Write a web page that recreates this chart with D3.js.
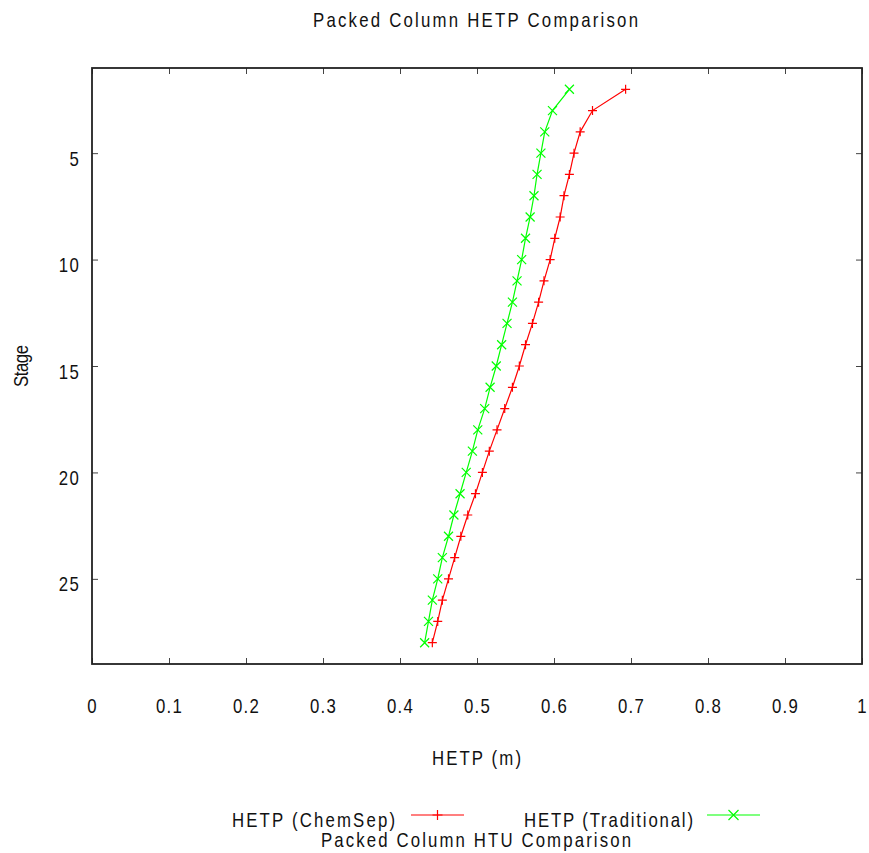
<!DOCTYPE html>
<html>
<head>
<meta charset="utf-8">
<script src="https://cdn.jsdelivr.net/npm/d3@7"></script>
<style>
  body { margin: 0; background: #fff; }
  text { font-family: "Liberation Sans Narrow", "Arial Narrow", "Liberation Sans", Arial, sans-serif; fill: #111; }
</style>
</head>
<body>
<div id="chart"></div>
<script>
// Stadi della colonna
const stages = [2, 3, 4, 5, 6, 7, 8, 9, 10, 11, 12, 13, 14, 15, 16, 17, 18, 19, 20, 21, 22, 23, 24, 25, 26, 27, 28];

// HETP (m)
const hetpChemSep = [0.693, 0.650, 0.634, 0.626, 0.620, 0.613, 0.608, 0.601, 0.595, 0.587, 0.580, 0.572, 0.563,
  0.555, 0.546, 0.536, 0.526, 0.516, 0.507, 0.498, 0.488, 0.479, 0.471, 0.463, 0.455, 0.449, 0.442];
const hetpTraditional = [0.620, 0.598, 0.588, 0.583, 0.578, 0.574, 0.569, 0.563, 0.558, 0.552, 0.546, 0.539, 0.532,
  0.525, 0.517, 0.510, 0.501, 0.494, 0.486, 0.478, 0.470, 0.463, 0.455, 0.449, 0.442, 0.437, 0.432];

const xTicks = [0, 0.1, 0.2, 0.3, 0.4, 0.5, 0.6, 0.7, 0.8, 0.9, 1];
const yTicks = [5, 10, 15, 20, 25];

const width = 869;
const height = 853;
const margin = { top: 68, right: 7, bottom: 189, left: 92 };
const innerW = width - margin.left - margin.right;
const innerH = height - margin.top - margin.bottom;
const squeeze = 0.84; // caratteri stretti come nell'originale

const svg = d3.select("#chart")
  .append("svg")
  .attr("width", width)
  .attr("height", height);

const x = d3.scaleLinear().domain([0, 1]).range([0, innerW]);
const y = d3.scaleLinear().domain([1, 29]).range([0, innerH]);

const g = svg.append("g").attr("transform", `translate(${margin.left},${margin.top})`);

// Assi con tacche verso l'interno
const axBottom = g.append("g")
  .attr("transform", `translate(0,${innerH})`)
  .call(d3.axisBottom(x).tickValues(xTicks).tickSize(-6).tickPadding(35).tickFormat(d3.format("~g")));
const axTop = g.append("g")
  .call(d3.axisTop(x).tickValues(xTicks).tickSize(-6).tickFormat(""));
const axLeft = g.append("g")
  .call(d3.axisLeft(y).tickValues(yTicks).tickSize(-6).tickPadding(12 / squeeze));
const axRight = g.append("g")
  .attr("transform", `translate(${innerW},0)`)
  .call(d3.axisRight(y).tickValues(yTicks).tickSize(-6).tickFormat(""));

[axBottom, axTop, axLeft, axRight].forEach(a => {
  a.select(".domain").remove();
  a.selectAll(".tick line").attr("stroke", "#444").attr("stroke-width", 1);
  a.selectAll("text")
    .style("font-size", "20px")
    .style("letter-spacing", "1.5px")
    .attr("fill", "#111")
    .attr("transform", `scale(${squeeze},1)`);
});
axLeft.selectAll("text").attr("dy", 12);

// Cornice
g.append("rect")
  .attr("x", 0).attr("y", 0)
  .attr("width", innerW).attr("height", innerH)
  .attr("fill", "none")
  .attr("stroke", "#222")
  .attr("stroke-width", 1.8);

const line = d3.line().x(d => x(d[0])).y(d => y(d[1]));

function plus(sel, color, s) {
  sel.append("path")
    .attr("d", `M${-s},0H${s}M0,${-s}V${s}`)
    .attr("stroke", color).attr("stroke-width", 1.2).attr("fill", "none");
}
function cross(sel, color, s) {
  sel.append("path")
    .attr("d", `M${-s},${-s}L${s},${s}M${-s},${s}L${s},${-s}`)
    .attr("stroke", color).attr("stroke-width", 1.2).attr("fill", "none");
}

const series = [
  { name: "HETP (ChemSep)", values: hetpChemSep, color: "#ff0000", marker: plus },
  { name: "HETP (Traditional)", values: hetpTraditional, color: "#00ff00", marker: cross }
];

series.forEach(s => {
  const pts = s.values.map((v, i) => [v, stages[i]]);
  g.append("path")
    .datum(pts)
    .attr("d", line)
    .attr("fill", "none")
    .attr("stroke", s.color)
    .attr("stroke-width", 1.2);
  g.selectAll(null)
    .data(pts)
    .join("g")
    .attr("transform", d => `translate(${x(d[0])},${y(d[1])})`)
    .each(function () { s.marker(d3.select(this), s.color, 4.5); });
});

// Testi (stretti orizzontalmente, lunghezza fissata)
function label(txt, xPos, yPos, len, anchor = "middle", rotate = 0) {
  return svg.append("text")
    .attr("transform", `translate(${xPos},${yPos}) rotate(${rotate}) scale(${squeeze},1)`)
    .attr("text-anchor", anchor)
    .style("font-size", "20px")
    .attr("textLength", len / squeeze)
    .attr("lengthAdjust", "spacing")
    .text(txt);
}

label("Packed Column HETP Comparison", 475.5, 27, 325);
label("HETP (m)", 476.5, 765, 89);
label("Packed Column HTU Comparison", 476, 847, 310);
label("Stage", 28, 366, 42, "middle", -90);

// Legenda
const legend = [
  { s: series[0], textX: 232, textLen: 163, x1: 411, x2: 464 },
  { s: series[1], textX: 524, textLen: 169, x1: 707, x2: 760 }
];
legend.forEach(l => {
  label(l.s.name, l.textX, 827, l.textLen, "start");
  svg.append("line")
    .attr("x1", l.x1).attr("x2", l.x2)
    .attr("y1", 815).attr("y2", 815)
    .attr("stroke", l.s.color).attr("stroke-width", 1.2);
  const m = svg.append("g").attr("transform", `translate(${(l.x1 + l.x2) / 2},815)`);
  l.s.marker(m, l.s.color, 5);
});
</script>
</body>
</html>
